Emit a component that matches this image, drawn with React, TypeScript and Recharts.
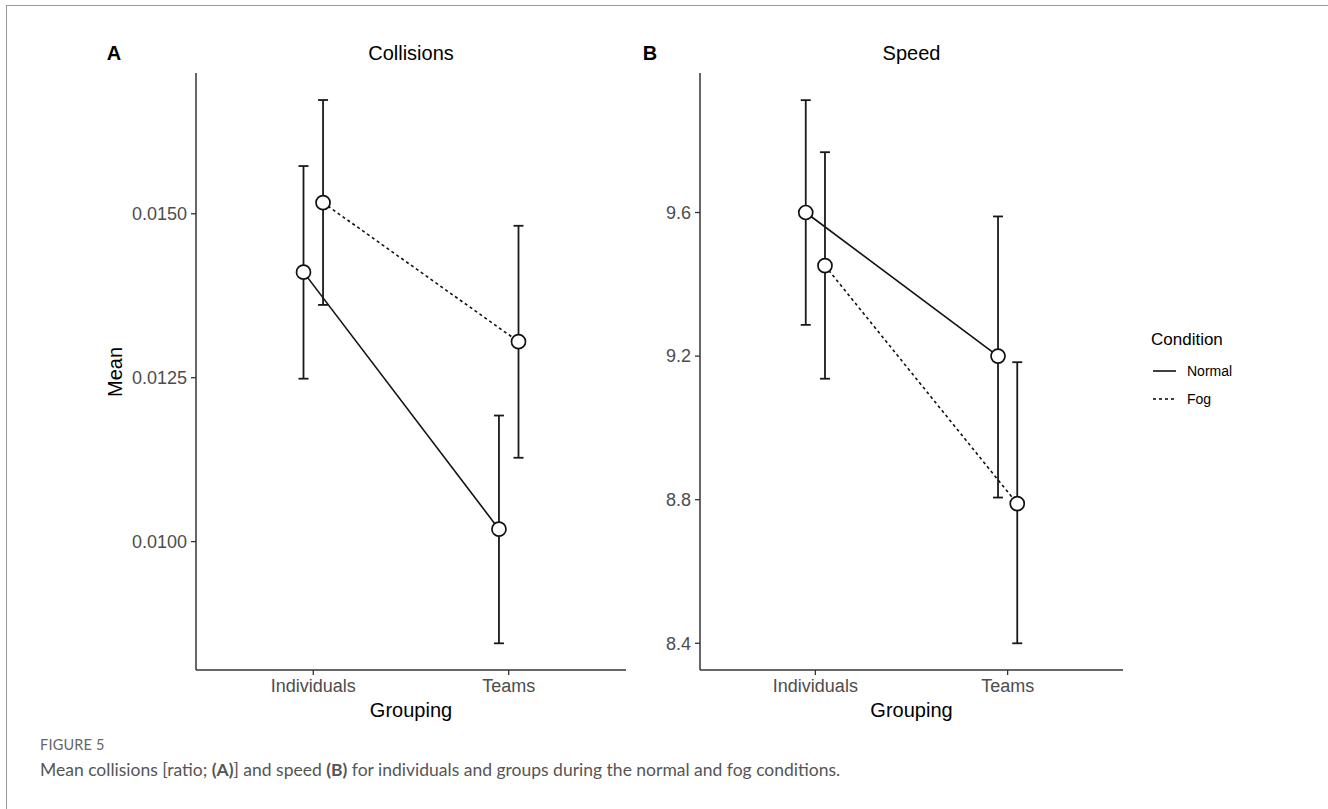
import React from 'react';
import { ComposedChart, Line, XAxis, YAxis, ErrorBar } from 'recharts';

const categories = ['Individuals', 'Teams'];
const conditions = ['Normal', 'Fog'];

const collisionsNormal = [0.01411, 0.01019];
const collisionsNormalLow = [0.012485, 0.008449];
const collisionsNormalHigh = [0.015728, 0.011923];
const collisionsFog = [0.01517, 0.01305];
const collisionsFogLow = [0.01361, 0.011279];
const collisionsFogHigh = [0.016735, 0.014817];

const speedNormal = [9.6, 9.2];
const speedNormalLow = [9.287, 8.806];
const speedNormalHigh = [9.913, 9.589];
const speedFog = [9.452, 8.789];
const speedFogLow = [9.137, 8.4];
const speedFogHigh = [9.768, 9.183];

const collisionsTicks = [0.01, 0.0125, 0.015];
const speedTicks = [8.4, 8.8, 9.2, 9.6];

const DODGE = 0.05;
const FONT = '"Liberation Sans", Arial, Helvetica, sans-serif';

function build(values: number[], low: number[], high: number[], offset: number) {
  return categories.map((c, i) => ({
    x: i + 1 + offset,
    y: values[i],
    err: [values[i] - low[i], high[i] - values[i]],
  }));
}

const Dot = (props: any) => {
  const { cx, cy, index } = props;
  if (cx == null || cy == null) return null;
  return <circle key={`d-${index}`} cx={cx} cy={cy} r={7} fill="#ffffff" stroke="#111111" strokeWidth={1.7} strokeDasharray="none" />;
};

type PanelProps = {
  left: number;
  width: number;
  yAxisWidth: number;
  marginRight: number;
  domain: [number, number];
  ticks: number[];
  digits: number;
  normal: any[];
  fog: any[];
};

const TOP = 73;
const HEIGHT = 720;

function Panel(p: PanelProps) {
  return (
    <div style={{ position: 'absolute', left: p.left, top: 0 }}>
      <ComposedChart
        width={p.width}
        height={HEIGHT}
        margin={{ top: TOP, right: p.marginRight, bottom: 20, left: 0 }}
      >
        <XAxis
          type="number"
          dataKey="x"
          domain={[0.4, 2.6]}
          ticks={[1, 2]}
          allowDataOverflow
          height={30}
          tickFormatter={(v: number) => categories[Math.round(v) - 1]}
          axisLine={{ stroke: '#333333', strokeWidth: 1.5 }}
          tickLine={{ stroke: '#333333', strokeWidth: 1.3 }}
          tickSize={5}
          tickMargin={4}
          tick={{ fill: '#4d4d4d', fontSize: 18, fontFamily: FONT }}
        />
        <YAxis
          type="number"
          domain={p.domain}
          ticks={p.ticks}
          allowDataOverflow
          width={p.yAxisWidth}
          tickFormatter={(v: number) => v.toFixed(p.digits)}
          axisLine={{ stroke: '#333333', strokeWidth: 1.5 }}
          tickLine={{ stroke: '#333333', strokeWidth: 1.3 }}
          tickSize={5}
          tickMargin={4}
          tick={{ fill: '#4d4d4d', fontSize: 18, fontFamily: FONT }}
        />
        <Line
          data={p.normal}
          dataKey="y"
          name={conditions[0]}
          stroke="#111111"
          strokeWidth={1.6}
          dot={Dot}
          activeDot={false}
          isAnimationActive={false}
        >
          <ErrorBar dataKey="err" width={5} stroke="#1a1a1a" strokeWidth={1.8} direction="y" />
        </Line>
        <Line
          data={p.fog}
          dataKey="y"
          name={conditions[1]}
          stroke="#111111"
          strokeWidth={1.6}
          strokeDasharray="3 3"
          dot={Dot}
          activeDot={false}
          isAnimationActive={false}
        >
          <ErrorBar dataKey="err" width={5} stroke="#1a1a1a" strokeWidth={1.8} direction="y" strokeDasharray="none" />
        </Line>
      </ComposedChart>
    </div>
  );
}

function Text({ x, y, size, children, bold, color, anchor }: any) {
  const tx = anchor === 'start' ? '0' : '-50%';
  return (
    <div
      style={{
        position: 'absolute',
        left: x,
        top: y - size / 2,
        height: size,
        lineHeight: `${size}px`,
        fontSize: size,
        fontFamily: FONT,
        fontWeight: bold ? 700 : 400,
        color: color || '#000',
        whiteSpace: 'nowrap',
        transform: `translateX(${tx})`,
      }}
    >
      {children}
    </div>
  );
}

export default function App() {
  const collNormal = build(collisionsNormal, collisionsNormalLow, collisionsNormalHigh, -DODGE);
  const collFog = build(collisionsFog, collisionsFogLow, collisionsFogHigh, DODGE);
  const spNormal = build(speedNormal, speedNormalLow, speedNormalHigh, -DODGE);
  const spFog = build(speedFog, speedFogLow, speedFogHigh, DODGE);

  return (
    <div style={{ position: 'absolute', left: 0, top: 0, width: 1328, height: 809, background: '#fff', overflow: 'hidden' }}>
      <div
        style={{
          position: 'absolute',
          left: 6,
          top: 5,
          width: 1340,
          height: 820,
          borderTop: '1.5px solid #9a9a9a',
          borderLeft: '1.5px solid #9a9a9a',
        }}
      />
      <Panel
        left={0}
        width={640}
        yAxisWidth={196}
        marginRight={14}
        domain={[0.008042, 0.017147]}
        ticks={collisionsTicks}
        digits={4}
        normal={collNormal}
        fog={collFog}
      />
      <Panel
        left={540}
        width={600}
        yAxisWidth={160}
        marginRight={17}
        domain={[8.3256, 9.9886]}
        ticks={speedTicks}
        digits={1}
        normal={spNormal}
        fog={spFog}
      />

      <Text x={114} y={53} size={20} bold>A</Text>
      <Text x={411} y={53} size={20}>Collisions</Text>
      <Text x={650} y={53} size={20} bold>B</Text>
      <Text x={911.5} y={53} size={20}>Speed</Text>

      <Text x={411} y={710} size={20}>Grouping</Text>
      <Text x={911.5} y={710} size={20}>Grouping</Text>

      <div
        style={{
          position: 'absolute',
          left: 115,
          top: 371.5,
          fontSize: 20,
          lineHeight: '20px',
          fontFamily: FONT,
          color: '#000',
          whiteSpace: 'nowrap',
          transform: 'translate(-50%, -50%) rotate(-90deg)',
        }}
      >
        Mean
      </div>

      <div style={{ position: 'absolute', left: 1151, top: 330, fontFamily: FONT }}>
        <div style={{ fontSize: 17, lineHeight: '20px', color: '#000' }}>Condition</div>
        {conditions.map((c, i) => (
          <div key={c} style={{ position: 'absolute', left: 0, top: 30 + i * 28, height: 22, width: 120 }}>
            <svg width={26} height={22} style={{ position: 'absolute', left: 0, top: 0 }}>
              <line
                x1={2}
                y1={11}
                x2={25}
                y2={11}
                stroke="#000"
                strokeWidth={1.5}
                strokeDasharray={i === 1 ? '3 3' : undefined}
              />
            </svg>
            <span style={{ position: 'absolute', left: 36, top: 0, fontSize: 14, lineHeight: '22px', color: '#000' }}>{c}</span>
          </div>
        ))}
      </div>

      <div
        style={{
          position: 'absolute',
          left: 40,
          top: 736,
          fontFamily: 'Lato, "Open Sans", sans-serif',
          fontSize: 14.5,
          lineHeight: '18px',
          color: '#666',
          letterSpacing: 0.2,
        }}
      >
        FIGURE 5
      </div>
      <div
        style={{
          position: 'absolute',
          left: 40,
          top: 759,
          fontFamily: 'Lato, "Open Sans", sans-serif',
          fontSize: 17.5,
          lineHeight: '22px',
          color: '#555',
          whiteSpace: 'nowrap',
        }}
      >
        Mean collisions [ratio; <b>(A)</b>] and speed <b>(B)</b> for individuals and groups during the normal and fog conditions.
      </div>
    </div>
  );
}
